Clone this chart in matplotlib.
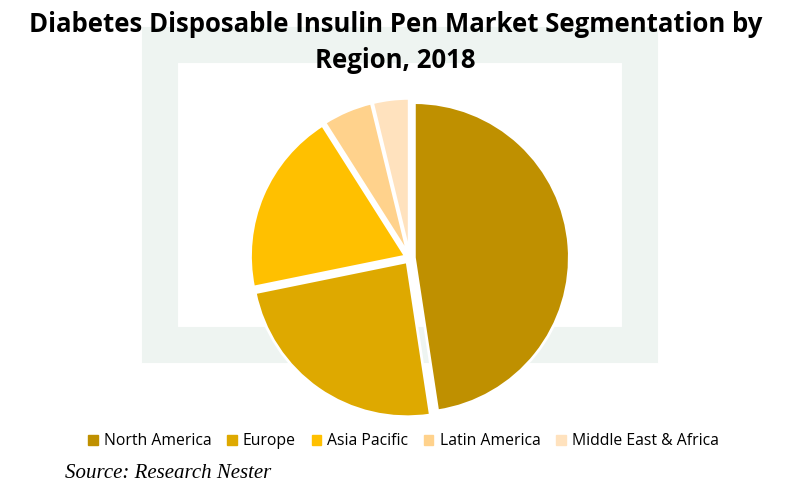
import matplotlib.pyplot as plt

regions = ['North America', 'Europe', 'Asia Pacific', 'Latin America', 'Middle East & Africa']
shares = [47.6, 24.2, 19.2, 5.2, 3.8]
colors = ['#BF9000', '#DEA900', '#FFC000', '#FFD28C', '#FFE2BE']
explode = [0.03, 0.03, 0.03, 0.03, 0.03]

fig = plt.figure(figsize=(7.91, 4.97), dpi=100)

# faint watermark frame in the background
wm = fig.add_axes([0, 0, 1, 1], zorder=0)
wm.set_xlim(0, 791)
wm.set_ylim(497, 0)
wm.axis('off')
wm.add_patch(plt.Rectangle((160, 45), 480, 300, fill=False, ec='#EEF4F1', lw=26))

ax = fig.add_axes([0.518 - 0.2155, 0.481 - 0.343, 0.431, 0.686], zorder=1)
ax.pie(shares, colors=colors, startangle=90, counterclock=False, explode=explode,
       wedgeprops=dict(edgecolor='white', linewidth=2))
ax.set_xlim(-1.1, 1.1)
ax.set_ylim(-1.1, 1.1)
ax.set_aspect('equal')

fig.text(0.5, 0.977, 'Diabetes Disposable Insulin Pen Market Segmentation by\nRegion, 2018',
         ha='center', va='top', fontsize=18.5, fontweight='bold',
         family=['Open Sans', 'DejaVu Sans'], linespacing=1.4)

handles = [plt.Rectangle((0, 0), 1, 1, color=c) for c in colors]
fig.legend(handles, regions, loc='center', bbox_to_anchor=(0.51, 0.112), ncol=5,
           frameon=False, handlelength=0.6, handleheight=0.6,
           handletextpad=0.4, columnspacing=1.0,
           prop=dict(family=['Open Sans', 'DejaVu Sans'], size=11.3))

fig.text(0.082, 0.048, 'Source: Research Nester', ha='left', va='center',
         fontsize=15, style='italic', family=['Liberation Serif', 'DejaVu Serif'])

fig.savefig('out.png', dpi=100)
